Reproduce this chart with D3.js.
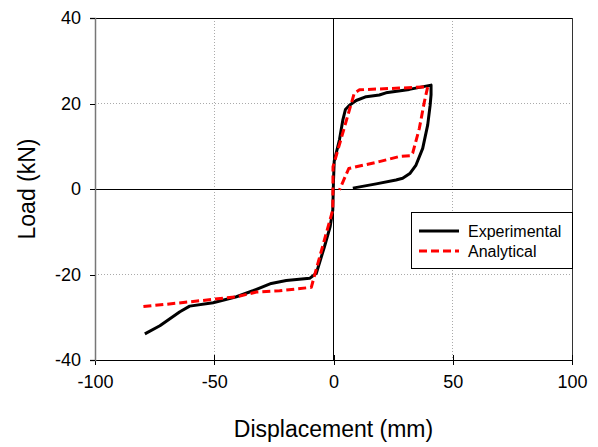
<!DOCTYPE html>
<html>
<head>
<meta charset="utf-8">
<script src="https://cdn.jsdelivr.net/npm/d3@7"></script>
<style>
  body { margin: 0; background: #fff; }
  svg text { font-family: "Liberation Sans", Arial, sans-serif; fill: #000; }
</style>
</head>
<body>
<svg id="chart" width="598" height="447"></svg>
<script>
const xTicks = [-100, -50, 0, 50, 100],
    yTicks = [-40, -20, 0, 20, 40];

// experimental curve, [displacement mm, load kN]
const experimental = [
    [-79.1, -33.9], [-72.8, -32.0], [-64.4, -28.7], [-60.3, -27.4], [-50.5, -26.6],
    [-40.7, -25.2], [-33.8, -23.8], [-26.1, -22.1], [-19.8, -21.4], [-10.0, -20.9],
    [-7.2, -19.7], [-3.8, -13.5], [-1.4, -8.8], [-0.3, -4.9], [0.0, 2.0],
    [0.3, 6.5], [2.5, 11.5], [3.9, 16.1], [5.0, 18.6], [6.7, 19.6], [9.5, 20.7],
    [13.7, 21.6], [19.2, 22.0], [22.0, 22.5], [31.8, 23.3], [40.9, 24.3],
    [40.9, 22.0], [40.5, 19.5], [39.5, 15.0], [37.4, 9.5], [34.6, 5.6],
    [32.0, 3.6], [29.0, 2.5], [26.2, 2.1], [17.9, 1.2], [8.1, 0.2]
];

// analytical curve
const analytical = [
    [-79.7, -27.5], [-60.3, -26.4], [-40.7, -25.2], [-32.3, -24.1], [-22.6, -23.8],
    [-9.3, -23.0], [-7.9, -20.1], [-0.3, -4.9], [-0.2, 5.2], [8.7, 22.4],
    [10.9, 23.2], [27.6, 23.6], [39.5, 23.9], [38.1, 20.4], [36.0, 14.2],
    [33.2, 8.4], [32.5, 7.8], [27.6, 7.6], [19.2, 6.4], [6.4, 4.8], [2.5, -0.2]
];

const series = [
    {name: "Experimental", data: experimental, color: "#000", dash: null},
    {name: "Analytical", data: analytical, color: "#ff0000", dash: "8,4"}
];

const svg = d3.select("#chart"),
    margin = {top: 18, right: 26, bottom: 87, left: 95},
    width = 598 - margin.left - margin.right,
    height = 447 - margin.top - margin.bottom,
    g = svg.append("g").attr("transform", `translate(${margin.left},${margin.top})`);

const x = d3.scaleLinear().domain([-100, 100]).range([0, width]),
    y = d3.scaleLinear().domain([-40, 40]).range([height, 0]);

const crisp = (sel) => sel.attr("shape-rendering", "crispEdges");

// dotted gridlines
g.selectAll(".gx").data(xTicks.filter((d) => d !== 0 && d !== -100))
    .enter().append("line")
        .attr("x1", (d) => x(d)).attr("x2", (d) => x(d))
        .attr("y1", 0).attr("y2", height)
        .attr("stroke", "#aaa").attr("stroke-dasharray", "1,2")
        .call(crisp);
g.selectAll(".gy").data(yTicks.filter((d) => d !== 0 && d !== -40))
    .enter().append("line")
        .attr("x1", 0).attr("x2", width)
        .attr("y1", (d) => y(d)).attr("y2", (d) => y(d))
        .attr("stroke", "#aaa").attr("stroke-dasharray", "1,2")
        .call(crisp);

// frame
g.append("line").attr("x1", 0).attr("x2", width).attr("y1", 0).attr("y2", 0).attr("stroke", "#000").call(crisp);
g.append("line").attr("x1", width).attr("x2", width).attr("y1", 0).attr("y2", height).attr("stroke", "#333").call(crisp);

// zero lines
g.append("line").attr("x1", x(0)).attr("x2", x(0)).attr("y1", 0).attr("y2", height).attr("stroke", "#000").call(crisp);
g.append("line").attr("x1", 0).attr("x2", width).attr("y1", y(0)).attr("y2", y(0)).attr("stroke", "#000").call(crisp);

// axes
const fmt = (d) => String(d);
const xAxis = g.append("g")
    .attr("transform", `translate(0,${height})`)
    .call(d3.axisBottom(x).tickValues(xTicks).tickSize(5).tickPadding(10).tickFormat(fmt));
xAxis.select(".domain").attr("stroke", "#000").call(crisp);
xAxis.selectAll("line").attr("stroke", "#000").attr("y1", -5).call(crisp);
xAxis.selectAll("text").attr("font-size", 18).attr("font-family", "Liberation Sans, Arial, sans-serif");

const yAxis = g.append("g")
    .call(d3.axisLeft(y).tickValues(yTicks).tickSize(5).tickPadding(9).tickFormat(fmt));
yAxis.select(".domain").attr("stroke", "#777").attr("stroke-width", 1.5);
yAxis.selectAll("line").attr("stroke", "#000").call(crisp);
yAxis.selectAll("text").attr("font-size", 18).attr("font-family", "Liberation Sans, Arial, sans-serif");

// axis titles
svg.append("text")
    .attr("x", margin.left + x(0)).attr("y", 437)
    .attr("text-anchor", "middle").attr("font-size", 23)
    .text("Displacement (mm)");
svg.append("text")
    .attr("transform", `translate(35,${margin.top + y(0)}) rotate(-90)`)
    .attr("text-anchor", "middle").attr("font-size", 23)
    .text("Load (kN)");

// curves
const line = d3.line().x((d) => x(d[0])).y((d) => y(d[1]));
g.selectAll(".curve").data(series)
    .enter().append("path")
        .attr("fill", "none")
        .attr("stroke", (d) => d.color)
        .attr("stroke-width", 3)
        .attr("stroke-linejoin", "round")
        .attr("stroke-dasharray", (d) => d.dash)
        .attr("d", (d) => line(d.data));

// legend
const legend = svg.append("g").attr("transform", "translate(411,212)");
legend.append("rect")
    .attr("width", 161).attr("height", 56)
    .attr("fill", "#fff").attr("stroke", "#000").call(crisp);
series.forEach((s, i) => {
    const ly = 19 + i * 20;
    legend.append("line")
        .attr("x1", 8).attr("x2", 48).attr("y1", ly).attr("y2", ly)
        .attr("stroke", s.color).attr("stroke-width", 3)
        .attr("stroke-dasharray", s.dash);
    legend.append("text")
        .attr("x", 57).attr("y", ly + 5.5)
        .attr("font-size", 16)
        .text(s.name);
});
</script>
</body>
</html>
